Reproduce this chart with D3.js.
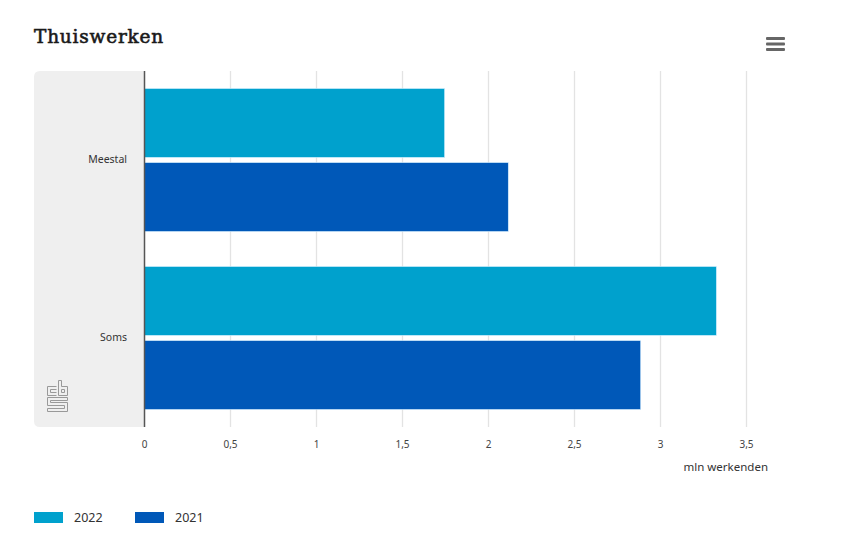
<!DOCTYPE html>
<html>
<head>
<meta charset="utf-8">
<script src="https://cdn.jsdelivr.net/npm/d3@7"></script>
<style>
html,body{margin:0;padding:0;background:#fff;}
svg{display:block;}
</style>
</head>
<body>
<svg id="chart" width="850" height="547"></svg>
<script>
const categories = ["Meestal", "Soms"];
const seriesNames = ["2022", "2021"];
const values2022 = [1.745, 3.325];
const values2021 = [2.115, 2.885];
const tickValues = [0, 0.5, 1, 1.5, 2, 2.5, 3, 3.5];
const tickLabels = ["0", "0,5", "1", "1,5", "2", "2,5", "3", "3,5"];
const axisTitle = "mln werkenden";
const title = "Thuiswerken";
const colors = ["#00a1cd", "#0058b8"];

const svg = d3.select("#chart");
const font = "'Noto Sans', sans-serif";
const plot = {left: 144, right: 768, top: 71, bottom: 427};

const x = d3.scaleLinear().domain([0, 3.628]).range([plot.left, plot.right]);
const y0 = d3.scaleBand().domain(categories).range([plot.top, plot.bottom]).paddingInner(0).paddingOuter(0);
const y1 = d3.scaleBand().domain(seriesNames).range([17.5, y0.bandwidth() - 17.5]).paddingInner(0.07);

// Title
svg.append("text").attr("x", 34).attr("y", 43)
  .attr("font-family", "'DejaVu Serif', serif").attr("font-weight", "normal")
  .attr("font-size", 18.5).attr("fill", "#1a1a1a").attr("letter-spacing", 0.8)
  .attr("stroke", "#1a1a1a").attr("stroke-width", 0.6).text(title);

// menu icon
[0, 5.5, 11].forEach(d => {
  svg.append("rect").attr("x", 766).attr("y", 37 + d).attr("width", 19).attr("height", 3)
    .attr("fill", "#666").attr("rx", 1);
});

// gray panel
const r = 6;
svg.append("path")
  .attr("d", `M${plot.left},${plot.top} L${34 + r},${plot.top} Q34,${plot.top} 34,${plot.top + r} L34,${plot.bottom - r} Q34,${plot.bottom} ${34 + r},${plot.bottom} L${plot.left},${plot.bottom} Z`)
  .attr("fill", "#efefef");

// x axis labels
const xAxisG = svg.append("g").attr("transform", `translate(0,${plot.bottom})`)
  .call(d3.axisBottom(x).tickValues(tickValues).tickFormat((d, i) => tickLabels[i]).tickSize(0).tickPadding(14));
xAxisG.select(".domain").remove();
xAxisG.selectAll("text").attr("font-family", font).attr("font-size", 10).attr("fill", "#444");

// gridlines
svg.append("g").selectAll("line").data(tickValues.slice(1)).join("line")
  .attr("x1", d => Math.round(x(d)) + 0.5).attr("x2", d => Math.round(x(d)) + 0.5)
  .attr("y1", plot.top).attr("y2", plot.bottom)
  .attr("stroke", "#e3e3e3").attr("stroke-width", 1.3);

// bars
const data = categories.map((c, i) => ({cat: c, vals: [values2022[i], values2021[i]]}));
const groups = svg.append("g").selectAll("g").data(data).join("g")
  .attr("transform", d => `translate(0,${y0(d.cat)})`);
groups.selectAll("rect").data(d => d.vals.map((v, j) => ({v, s: seriesNames[j], j})))
  .join("rect")
  .attr("x", x(0) + 0.5)
  .attr("y", d => y1(d.s))
  .attr("width", d => x(d.v) - x(0))
  .attr("height", y1.bandwidth())
  .attr("fill", d => colors[d.j])
  .attr("stroke", "#d8f0ff").attr("stroke-width", 0.6);

// y axis line
svg.append("line").attr("x1", plot.left + 0.5).attr("x2", plot.left + 0.5)
  .attr("y1", plot.top).attr("y2", plot.bottom)
  .attr("stroke", "#555").attr("stroke-width", 1.5);

// category labels
svg.append("g").selectAll("text").data(categories).join("text")
  .attr("x", 127).attr("y", d => y0(d) + y0.bandwidth() / 2 + 3)
  .attr("text-anchor", "end").attr("font-family", font).attr("font-size", 10.5)
  .attr("fill", "#333").text(d => d);

// axis title
svg.append("text").attr("x", plot.right).attr("y", 471).attr("text-anchor", "end")
  .attr("font-family", font).attr("font-size", 11.5).attr("fill", "#333").text(axisTitle);

// CBS logo (simple outline)
const logo = svg.append("g").attr("transform", "translate(47,380)")
  .attr("fill", "none").attr("stroke", "#999").attr("stroke-width", 1);
logo.append("path").attr("d", "M9.5,6.5 H0.5 V15.5 H9.5 M9.5,9.5 H3.5 V12.5 H9.5");
logo.append("path").attr("d", "M11.5,0.5 V15.5 H20.5 V6.5 H14.5 V0.5 Z M14.5,9.5 H17.5 V12.5 H14.5 Z");
logo.append("path").attr("d", "M20.5,17.5 H0.5 V25.5 H17.5 V28.5 H0.5 V31.5 H20.5 V22.5 H3.5 V20.5 H20.5 Z");

// legend
const leg = svg.append("g").selectAll("g").data(seriesNames).join("g")
  .attr("transform", (d, i) => `translate(${34 + i * 101},512)`);
leg.append("rect").attr("width", 29).attr("height", 11).attr("fill", (d, i) => colors[i]);
leg.append("text").attr("x", 40).attr("y", 10).attr("font-family", font).attr("font-size", 12.5)
  .attr("fill", "#333").text(d => d);
</script>
</body>
</html>
